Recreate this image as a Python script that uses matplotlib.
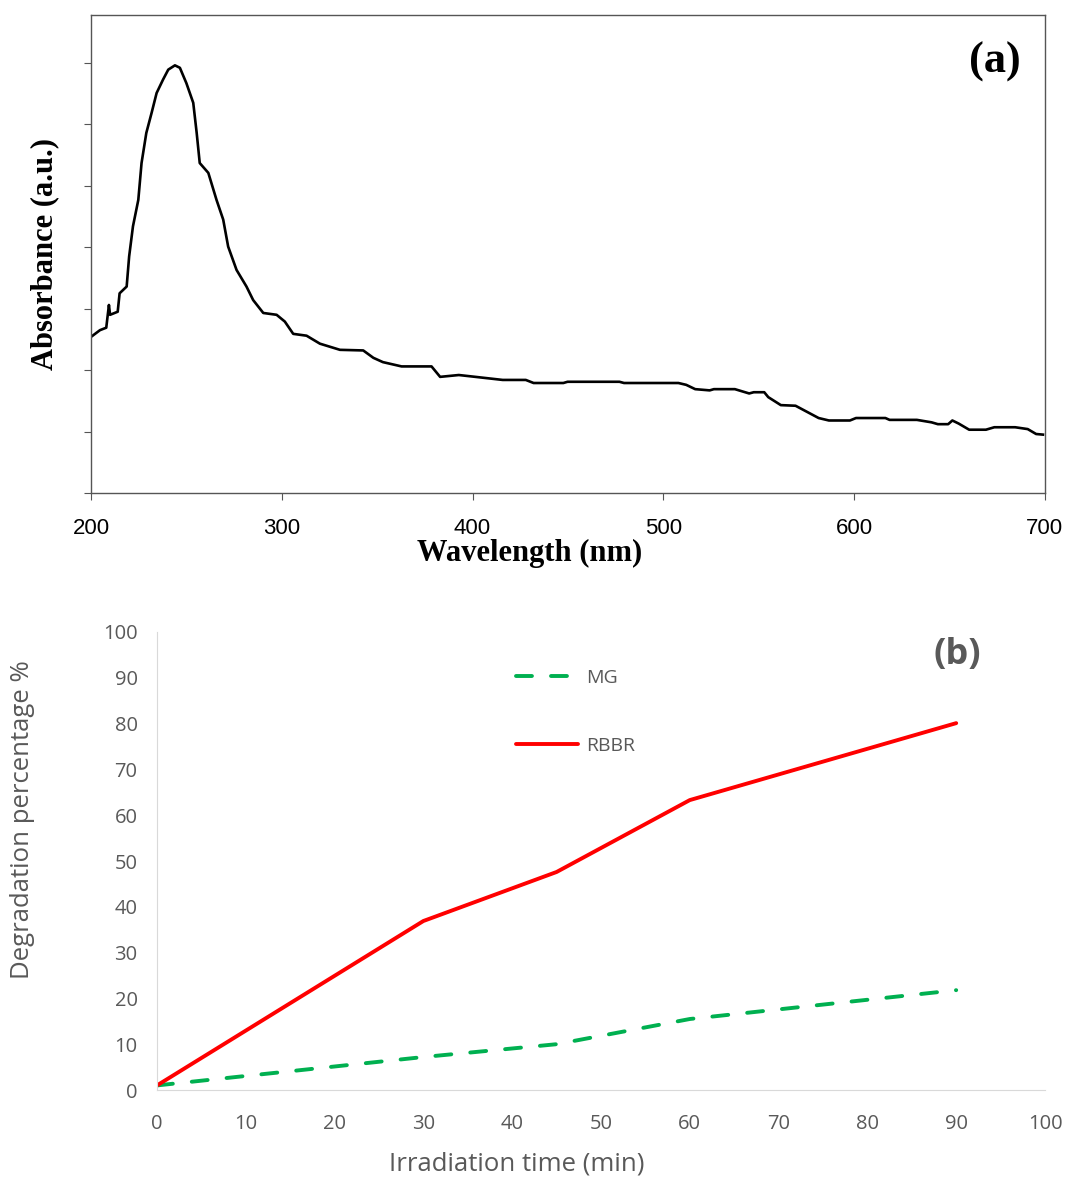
import matplotlib
matplotlib.use("Agg")
import matplotlib.pyplot as plt

# (a) UV-vis absorbance spectrum (arbitrary units)
wavelength = [200, 204.7, 208, 209.4, 210, 214, 215, 218.7, 220, 222, 224.8, 226.5,
              229, 231.8, 234.4, 237.8, 240.5, 244, 246.6, 250, 253.6, 255.4, 257,
              261.5, 265.8, 269.3, 271.9, 276.3, 281.5, 285, 290.3, 297.3, 301.6, 306,
              313, 320, 330.5, 342.7, 348, 353, 362.8, 378.5, 383, 392.8, 401.5, 415.8,
              427.9, 432, 447.6, 449.8, 477, 479.4, 507.9, 512, 516.7, 524.3, 526.5,
              537.5, 545, 547.4, 552.9, 555, 561.6, 569.3, 581.4, 586.8, 597.8, 601,
              616.4, 618.6, 632.9, 640.6, 643.9, 649.3, 651.5, 654.8, 660.3, 669.1,
              673.5, 684.4, 691, 695.4, 699]
absorbance = [2.54, 2.65, 2.69, 3.06, 2.90, 2.95, 3.25, 3.36, 3.85, 4.34, 4.77, 5.37,
              5.86, 6.19, 6.51, 6.73, 6.89, 6.96, 6.92, 6.67, 6.35, 5.86, 5.37,
              5.21, 4.77, 4.45, 4.01, 3.63, 3.36, 3.14, 2.93, 2.90, 2.79, 2.59,
              2.56, 2.43, 2.33, 2.32, 2.20, 2.13, 2.06, 2.06, 1.89, 1.92, 1.89, 1.84,
              1.84, 1.79, 1.79, 1.81, 1.81, 1.79, 1.79, 1.76, 1.69, 1.67, 1.69,
              1.69, 1.62, 1.64, 1.64, 1.56, 1.43, 1.42, 1.22, 1.18, 1.18, 1.22,
              1.22, 1.19, 1.19, 1.15, 1.12, 1.12, 1.18, 1.13, 1.03, 1.03,
              1.07, 1.07, 1.04, 0.96, 0.95]

# (b) degradation vs irradiation time
time_min = [0, 30, 45, 60, 90]
mg = [1, 7.2, 10, 15.5, 21.8]
rbbr = [1, 36.9, 47.6, 63.3, 80.1]

fig = plt.figure(figsize=(10.73, 11.78), dpi=100)

# ---- panel (a) ----
ax1 = fig.add_axes([0.0848, 0.5815, 0.889, 0.4058])
ax1.plot(wavelength, absorbance, color="black", lw=1.9)
ax1.set_xlim(200, 700)
ax1.set_ylim(0, 7.78)
ax1.set_xticks([200, 300, 400, 500, 600, 700])
ax1.set_yticks(range(0, 8))
ax1.set_yticklabels([])
for s in ax1.spines.values():
    s.set_color("#555555")
    s.set_linewidth(1.0)
ax1.tick_params(axis="x", direction="out", length=5, pad=13, labelsize=16,
                color="#555555")
ax1.tick_params(axis="y", direction="out", length=5, color="#555555")
for lab in ax1.get_xticklabels():
    lab.set_fontfamily("Liberation Sans")
ax1.set_xlabel("Wavelength (nm)", fontfamily="Liberation Serif",
               fontweight="bold", fontsize=22)
ax1.xaxis.set_label_coords(0.46, -0.1255)
ax1.xaxis.label.set_va("center")
ax1.set_ylabel("Absorbance (a.u.)", fontfamily="Liberation Serif",
               fontweight="bold", fontsize=22)
ax1.yaxis.set_label_coords(-0.048, 0.5)
ax1.yaxis.label.set_va("center")
ax1.text(0.948, 0.902, "(a)", transform=ax1.transAxes, ha="center", va="center",
         fontfamily="Liberation Serif", fontweight="bold", fontsize=32)

# ---- panel (b) ----
gray = "#595959"
ax2 = fig.add_axes([0.1463, 0.0747, 0.8276, 0.3888])
ax2.plot(time_min, mg, color="#00B050", lw=2.8, dashes=(4.1, 4.9),
         dash_capstyle="round", label="MG")
ax2.plot(time_min, rbbr, color="#FF0000", lw=2.8, solid_capstyle="round",
         label="RBBR")
ax2.set_xlim(0, 100)
ax2.set_ylim(0, 100)
ax2.set_xticks(range(0, 101, 10))
ax2.set_yticks(range(0, 101, 10))
ax2.spines["top"].set_visible(False)
ax2.spines["right"].set_visible(False)
ax2.spines["left"].set_color("#D9D9D9")
ax2.spines["bottom"].set_color("#D9D9D9")
ax2.tick_params(length=0, labelcolor=gray, labelsize=14.5)
ax2.tick_params(axis="x", pad=17)
ax2.tick_params(axis="y", pad=14)
for lab in ax2.get_xticklabels() + ax2.get_yticklabels():
    lab.set_fontfamily("Open Sans")
ax2.set_xlabel("Irradiation time (min)", fontfamily="Open Sans", fontsize=18.5,
               color=gray)
ax2.xaxis.set_label_coords(0.405, -0.162)
ax2.xaxis.label.set_va("center")
ax2.set_ylabel("Degradation percentage %", fontfamily="Open Sans", fontsize=18.5,
               color=gray)
ax2.yaxis.set_label_coords(-0.152, 0.59)
ax2.yaxis.label.set_va("center")
ax2.text(0.901, 0.95, "(b)", transform=ax2.transAxes, ha="center", va="center",
         fontfamily="Open Sans", fontweight="bold", fontsize=26, color=gray)
leg = ax2.legend(loc="upper left", bbox_to_anchor=(0.404, 0.919), frameon=False,
                 borderpad=0, borderaxespad=0, handlelength=3.2,
                 handletextpad=0.4, labelspacing=2.57,
                 prop={"family": "Open Sans", "size": 14})
for t in leg.get_texts():
    t.set_color(gray)

fig.savefig("out.png", dpi=100)
